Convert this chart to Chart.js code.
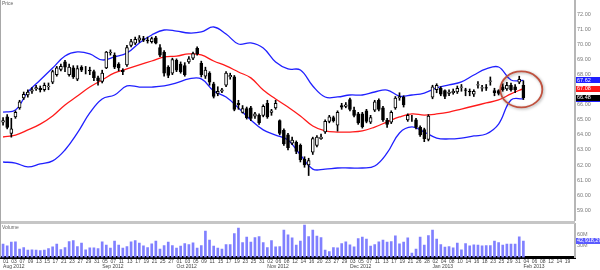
<!DOCTYPE html>
<html>
<head>
<meta charset="utf-8">
<script src="https://cdn.jsdelivr.net/npm/chart.js@4.4.1/dist/chart.umd.min.js"></script>
<style>
  html, body { margin: 0; padding: 0; background: #fff; }
  #wrap { position: relative; width: 600px; height: 270px; overflow: hidden; }
  canvas { position: absolute; left: 0; display: block; }
  #price-chart { top: 0; }
  #volume-chart { top: 221px; }
</style>
</head>
<body>
<div id="wrap">
  <canvas id="price-chart" width="600" height="221"></canvas>
  <canvas id="volume-chart" width="600" height="49"></canvas>
</div>
<script>
// Trading calendar (weekdays minus market closures)
const firstDay = '2012-08-01';
const lastDay = '2013-02-21';
const lastLabelledDay = '2013-02-19';
const closedDays = ['2012-09-03', '2012-10-29', '2012-10-30', '2012-11-22', '2012-12-25', '2013-01-01', '2013-01-21', '2013-02-18'];
const monthNames = ['Jan', 'Feb', 'Mar', 'Apr', 'May', 'Jun', 'Jul', 'Aug', 'Sep', 'Oct', 'Nov', 'Dec'];

// Daily prices, Aug 1 2012 - Feb 4 2013
const openPrices = [
    64.85, 65.2, 64.1, 65.2, 65.8, 66.45, 66.65, 66.9, 67.05, 67.1,
    67.0, 67.2, 67.5, 68.0, 68.35, 68.85, 68.0, 68.45, 67.7, 68.5,
    68.35, 68.3, 68.2, 67.8, 67.55, 68.45, 69.45, 69.3, 68.7, 68.3,
    68.65, 69.95, 70.1, 70.3, 70.4, 70.3, 70.2, 70.45, 69.8, 69.5,
    68.5, 68.1, 68.95, 68.7, 68.6, 68.85, 69.1, 69.75, 68.75, 67.9,
    68.1, 67.4, 66.75, 66.9, 67.3, 67.85, 67.85, 66.1, 65.5, 65.75,
    65.8, 65.25, 65.3, 65.3, 66.1, 65.5, 65.8, 64.95, 64.3, 64.0,
    63.45, 63.5, 63.3, 62.4, 62.0, 62.85, 63.3, 63.75, 64.2, 64.9,
    65.15, 64.65, 65.95, 65.9, 66.35, 65.65, 65.4, 65.4, 65.6, 64.85,
    65.65, 66.3, 65.8, 64.99, 64.85, 65.8, 66.45, 66.5, 65.0, 65.1,
    65.0, 64.5, 64.35, 63.7, 66.5, 67.0, 67.1, 66.95, 66.75, 66.8,
    66.85, 67.15, 67.0, 66.9, 66.7, 67.3, 67.1, 67.15, 67.55, 66.95,
    66.95, 67.2, 67.05, 67.3, 67.2, 67.5, 67.3
];
const highPrices = [
    65.15, 65.35, 65.1, 65.6, 66.3, 66.85, 67.0, 67.15, 67.3, 67.25,
    67.45, 67.45, 68.3, 68.55, 68.7, 68.95, 68.7, 68.6, 68.6, 68.6,
    68.55, 68.5, 68.3, 67.9, 68.3, 69.55, 69.65, 69.45, 68.8, 68.4,
    69.95, 70.35, 70.5, 70.6, 70.55, 70.5, 70.5, 70.55, 70.0, 69.6,
    68.6, 69.1, 69.05, 68.85, 68.8, 69.2, 69.5, 69.85, 68.9, 68.5,
    68.2, 67.5, 67.2, 67.1, 68.2, 68.1, 67.95, 66.3, 65.95, 65.85,
    65.9, 65.5, 65.4, 66.0, 66.3, 65.7, 66.3, 65.0, 64.4, 64.1,
    63.85, 63.6, 63.4, 62.55, 62.45, 63.85, 63.95, 64.05, 65.0, 65.3,
    65.25, 65.6, 66.1, 66.15, 66.45, 65.85, 65.5, 65.5, 65.7, 65.3,
    66.3, 66.4, 65.9, 65.1, 65.6, 66.55, 66.8, 66.6, 65.4, 65.3,
    65.1, 64.6, 64.45, 65.35, 67.3, 67.4, 67.2, 67.0, 67.0, 67.05,
    67.25, 67.35, 67.1, 67.05, 67.0, 67.55, 67.3, 67.35, 67.85, 67.1,
    67.0, 67.4, 67.5, 67.45, 67.35, 67.9, 67.6
];
const lowPrices = [
    64.65, 64.4, 63.85, 65.1, 65.7, 66.35, 66.5, 66.75, 66.95, 66.85,
    66.9, 67.0, 67.4, 67.9, 68.25, 68.2, 67.9, 67.75, 67.6, 68.2,
    68.05, 68.0, 67.6, 67.3, 67.45, 68.4, 69.3, 68.4, 68.25, 68.0,
    68.55, 69.85, 70.0, 70.15, 70.2, 70.1, 70.1, 70.05, 69.2, 67.9,
    67.8, 68.0, 68.2, 68.1, 67.9, 68.75, 69.0, 69.3, 67.85, 67.75,
    67.3, 66.45, 66.6, 66.8, 67.2, 67.7, 65.6, 65.7, 65.45, 65.05,
    64.95, 65.1, 64.7, 65.2, 65.1, 65.3, 65.7, 64.0, 63.3, 63.0,
    63.35, 62.75, 62.2, 61.85, 61.3, 62.7, 63.2, 63.7, 64.1, 64.8,
    64.85, 64.25, 65.7, 65.8, 65.6, 65.2, 64.7, 64.45, 64.8, 64.75,
    65.55, 65.6, 64.9, 64.5, 64.75, 65.7, 66.3, 65.85, 64.9, 64.9,
    64.4, 63.9, 63.55, 63.6, 66.4, 66.8, 66.6, 66.4, 66.6, 66.7,
    66.75, 66.9, 66.6, 66.6, 66.55, 67.1, 66.9, 66.95, 67.3, 66.6,
    66.65, 66.9, 66.95, 66.9, 66.8, 67.4, 66.35
];
const closePrices = [
    64.95, 64.5, 64.4, 65.5, 66.2, 66.7, 66.85, 67.0, 67.15, 67.0,
    67.3, 67.25, 68.2, 68.45, 68.55, 68.5, 68.5, 67.85, 68.4, 68.3,
    68.35, 68.25, 67.8, 67.6, 68.1, 69.5, 69.5, 68.5, 68.45, 68.2,
    69.8, 70.2, 70.35, 70.45, 70.3, 70.25, 70.4, 70.1, 69.3, 68.1,
    67.95, 69.0, 68.3, 68.2, 68.0, 69.05, 69.4, 69.4, 68.0, 68.3,
    67.5, 66.55, 66.9, 67.0, 68.1, 67.95, 65.7, 66.0, 65.75, 65.15,
    65.1, 65.4, 64.8, 65.9, 65.2, 65.6, 66.1, 64.1, 63.4, 63.15,
    63.65, 62.9, 62.35, 62.0, 62.3, 63.75, 63.85, 63.85, 64.9, 65.2,
    64.95, 65.5, 65.85, 66.0, 65.7, 65.3, 64.8, 64.55, 64.9, 65.15,
    66.2, 65.7, 65.0, 64.7, 65.5, 66.45, 66.55, 66.0, 65.3, 65.1,
    64.5, 64.0, 63.75, 65.25, 67.2, 67.3, 66.7, 66.55, 66.85, 66.9,
    67.1, 67.2, 66.95, 66.85, 66.9, 67.35, 67.15, 67.1, 67.6, 66.8,
    66.75, 67.0, 67.3, 67.0, 67.0, 67.7, 66.48
];

// Daily volume, millions of shares
const volumes = [
    34.7, 30.3, 39.9, 40.7, 21.7, 26.0, 19.1, 19.9, 19.1, 18.2,
    19.1, 23.4, 27.7, 34.7, 20.8, 26.0, 41.6, 44.2, 28.6, 37.3,
    19.9, 25.1, 25.1, 23.4, 40.7, 32.1, 24.3, 42.5, 32.1, 24.3,
    28.6, 40.7, 44.2, 37.3, 30.3, 26.0, 35.5, 42.5, 21.7, 31.2,
    39.9, 31.2, 24.3, 29.5, 36.4, 33.8, 38.1, 24.3, 31.2, 68.5,
    45.1, 29.5, 24.3, 21.7, 33.8, 33.8, 62.4, 76.3, 39.0, 52.9,
    39.9, 52.0, 54.6, 39.0, 26.0, 44.2, 27.7, 28.6, 71.1, 59.0,
    51.2, 32.1, 42.5, 84.1, 54.6, 71.1, 55.5, 52.0, 19.1, 15.6,
    26.0, 25.1, 36.4, 40.7, 32.9, 27.7, 49.4, 52.9, 47.7, 29.5,
    33.8, 40.7, 45.1, 39.9, 41.6, 56.4, 35.5, 39.9, 51.2, 11.3,
    21.7, 52.9, 32.1, 57.2, 71.1, 47.7, 33.8, 26.9, 28.6, 25.1,
    37.3, 19.9, 36.4, 30.3, 32.9, 32.1, 30.3, 31.2, 31.2, 42.5,
    39.0, 32.1, 34.7, 34.7, 34.7, 53.8, 42.91829
];

// Bollinger bands, read every 3rd session
const BAND_STEP = 3;
const upperBand = [
    65.52, 65.65, 66.85, 67.65, 68.44, 69.24, 69.51, 69.38, 68.98, 69.18,
    69.44, 70.11, 70.64, 70.97, 70.90, 70.77, 70.84, 71.17, 70.70, 70.04,
    70.11, 69.77, 68.84, 68.38, 68.31, 67.25, 66.52, 66.52, 66.65, 66.65,
    66.85, 66.98, 66.58, 66.65, 66.78, 67.12, 67.32, 67.52, 67.98, 68.38,
    68.51, 67.65, 67.62
];
const middleBand = [
    63.86, 63.99, 64.33, 64.72, 65.26, 65.99, 66.58, 67.18, 67.65, 68.12,
    68.38, 68.65, 68.91, 69.18, 69.24, 69.38, 69.31, 68.91, 68.58, 68.18,
    67.79, 66.98, 66.39, 65.85, 65.26, 64.59, 64.26, 64.19, 64.19, 64.26,
    64.52, 64.86, 65.19, 65.39, 65.32, 65.39, 65.52, 65.72, 65.92, 66.12,
    66.32, 66.72, 67.08
];
const lowerBand = [
    62.20, 62.13, 61.87, 62.07, 62.27, 63.00, 64.13, 65.46, 66.39, 66.65,
    67.25, 67.18, 67.18, 67.25, 67.45, 67.72, 67.72, 66.92, 66.52, 65.79,
    64.99, 64.33, 63.99, 63.66, 62.67, 61.73, 61.73, 61.80, 61.80, 61.80,
    61.93, 62.80, 64.13, 64.53, 64.19, 63.79, 63.73, 63.79, 63.93, 64.06,
    64.72, 66.32, 66.40
];

document.addEventListener('DOMContentLoaded', () => {
    const FONT = '"Liberation Sans", Arial, sans-serif';
    Chart.defaults.font.family = FONT;

    // Build the list of trading sessions
    function buildTradingDays(start, end, closed) {
        const days = [];
        const d = new Date(start + 'T00:00:00Z');
        const stop = new Date(end + 'T00:00:00Z');
        while (d <= stop) {
            const iso = d.toISOString().slice(0, 10);
            const wd = d.getUTCDay();
            if (wd !== 0 && wd !== 6 && !closed.includes(iso)) days.push(iso);
            d.setUTCDate(d.getUTCDate() + 1);
        }
        return days;
    }
    const tradingDays = buildTradingDays(firstDay, lastDay, closedDays);

    // Every other session gets a day number, first one of a month also gets the month
    const seenMonths = {};
    const tickLabels = tradingDays.map((iso, i) => {
        if (i % 2 !== 0 || iso > lastLabelledDay) return '';
        const day = iso.slice(8, 10);
        const key = iso.slice(0, 7);
        if (!seenMonths[key]) {
            seenMonths[key] = true;
            return [day, monthNames[+iso.slice(5, 7) - 1] + ' ' + iso.slice(0, 4)];
        }
        return day;
    });

    const wicks = lowPrices.map((l, i) => [l, highPrices[i]]);
    const bodies = openPrices.map((o, i) => [o, closePrices[i]]);
    const bodyFill = openPrices.map((o, i) => closePrices[i] >= o ? '#ffffff' : '#000000');
    const bandPoints = (band) => band.map((v, k) => ({ x: tradingDays[k * BAND_STEP], y: v }));

    // Right-hand scale is always 25px wide, no extra padding
    const fixRightAxis = (scale) => {
        scale.width = 25;
        scale.paddingTop = 0;
        scale.paddingBottom = 0;
    };

    // Coloured tag showing the last value of a series on the right axis
    function drawTag(chart, scaleId, value, bg, text) {
        const ctx = chart.ctx;
        const y = chart.scales[scaleId].getPixelForValue(value);
        const x = chart.chartArea.right + 1;
        ctx.save();
        ctx.fillStyle = bg;
        ctx.fillRect(x, Math.round(y - 3), chart.width - x, 6);
        ctx.fillStyle = '#ffffff';
        ctx.font = '5.5px ' + FONT;
        ctx.textBaseline = 'middle';
        ctx.textAlign = 'left';
        ctx.fillText(text, x + 1, y);
        ctx.restore();
    }

    const priceDecor = {
        id: 'priceDecor',
        afterDraw(chart) {
            const { ctx, scales } = chart;
            ctx.save();
            ctx.fillStyle = '#a8a8a8';
            ctx.fillRect(0, 0, 1, chart.height);
            ctx.fillStyle = '#666666';
            ctx.font = '5px ' + FONT;
            ctx.textBaseline = 'top';
            ctx.fillText('Price', 2, 1);

            // circle round the last sessions
            const n = closePrices.length;
            const cx = (scales.x.getPixelForValue(n - 2) + scales.x.getPixelForValue(n - 1)) / 2;
            const cy = scales.y.getPixelForValue(67.02);
            ctx.shadowColor = 'rgba(0,0,0,0.35)';
            ctx.shadowBlur = 3;
            ctx.shadowOffsetX = 1;
            ctx.shadowOffsetY = 1;
            ctx.strokeStyle = '#c0523f';
            ctx.lineWidth = 1.8;
            ctx.beginPath();
            ctx.ellipse(cx, cy, 21, 18, 0, 0, Math.PI * 2);
            ctx.stroke();
            ctx.restore();

            drawTag(chart, 'y', lowerBand[lowerBand.length - 1], '#1f1fff', lowerBand[lowerBand.length - 1].toFixed(2));
            drawTag(chart, 'y', upperBand[upperBand.length - 1], '#1f1fff', upperBand[upperBand.length - 1].toFixed(2));
            drawTag(chart, 'y', middleBand[middleBand.length - 1], '#ff1a1a', middleBand[middleBand.length - 1].toFixed(2));
            drawTag(chart, 'y', closePrices[n - 1], '#000000', closePrices[n - 1].toFixed(2));
        }
    };

    const volumeDecor = {
        id: 'volumeDecor',
        afterDraw(chart) {
            const { ctx, chartArea } = chart;
            ctx.save();
            ctx.fillStyle = '#c6c6c6';
            ctx.fillRect(0, 0, chartArea.right, 3);
            ctx.fillStyle = '#a8a8a8';
            ctx.fillRect(0, 0, 1, chartArea.bottom);
            ctx.fillStyle = '#666666';
            ctx.font = '5px ' + FONT;
            ctx.textBaseline = 'top';
            ctx.fillText('Volume', 2, chartArea.top + 1);
            ctx.restore();
            const last = volumes[volumes.length - 1];
            drawTag(chart, 'y', last, '#5a5aff', Math.round(last * 1e6).toLocaleString('en-US'));
        }
    };

    const lineStyle = { type: 'line', borderWidth: 1.3, pointRadius: 0, tension: 0.4, fill: false, order: 3 };

    // Price panel: candles + Bollinger bands
    new Chart(document.getElementById('price-chart'), {
        type: 'bar',
        data: {
            labels: tradingDays,
            datasets: [
                { ...lineStyle, label: 'Upper', data: bandPoints(upperBand), borderColor: '#2020ff' },
                { ...lineStyle, label: 'Middle', data: bandPoints(middleBand), borderColor: '#ff1a1a' },
                { ...lineStyle, label: 'Lower', data: bandPoints(lowerBand), borderColor: '#2020ff' },
                {
                    label: 'Range', data: wicks, backgroundColor: '#000000',
                    barThickness: 1, grouped: false, order: 2
                },
                {
                    label: 'Body', data: bodies, backgroundColor: bodyFill, borderColor: '#000000',
                    borderWidth: 1, borderSkipped: false, barThickness: 3, grouped: false, order: 1
                }
            ]
        },
        options: {
            responsive: false,
            animation: false,
            devicePixelRatio: 1,
            layout: { padding: { left: 1, right: 0, top: 0, bottom: 0 } },
            plugins: { legend: { display: false }, tooltip: { enabled: false } },
            scales: {
                x: { type: 'category', display: false, offset: true },
                y: {
                    position: 'right',
                    min: 58.279,
                    max: 72.963,
                    grid: { display: false, drawTicks: false },
                    border: { display: true, color: '#b6b6b6', width: 2 },
                    ticks: {
                        stepSize: 1, includeBounds: false, padding: 2,
                        color: '#7a7a7a', font: { size: 5.5 },
                        callback: (v) => v.toFixed(2)
                    },
                    afterFit: fixRightAxis
                }
            }
        },
        plugins: [priceDecor]
    });

    // Volume panel with the shared date axis
    new Chart(document.getElementById('volume-chart'), {
        type: 'bar',
        data: {
            labels: tradingDays,
            datasets: [{
                label: 'Volume', data: volumes, backgroundColor: '#8080ff', barThickness: 2
            }]
        },
        options: {
            responsive: false,
            animation: false,
            devicePixelRatio: 1,
            layout: { padding: { left: 1, right: 0, top: 3, bottom: 0 } },
            plugins: { legend: { display: false }, tooltip: { enabled: false } },
            scales: {
                x: {
                    type: 'category',
                    offset: true,
                    grid: { display: false, drawTicks: false },
                    border: { display: true, color: '#000000', width: 3 },
                    ticks: {
                        autoSkip: false, maxRotation: 0, minRotation: 0, align: 'start', padding: 1,
                        color: '#444444', font: { size: 5, lineHeight: 1.1 },
                        callback: (value, index) => tickLabels[index]
                    },
                    afterFit: (scale) => {
                        scale.height = 12.5;
                        scale.paddingLeft = 0;
                        scale.paddingRight = 0;
                    }
                },
                y: {
                    position: 'right',
                    min: 0,
                    max: 87,
                    grid: { display: false, drawTicks: false },
                    border: { display: true, color: '#b6b6b6', width: 2 },
                    ticks: {
                        stepSize: 30, includeBounds: false, padding: 2,
                        color: '#7a7a7a', font: { size: 5.5 },
                        callback: (v) => v === 0 ? '' : v + 'M'
                    },
                    afterFit: fixRightAxis
                }
            }
        },
        plugins: [volumeDecor]
    });
});
</script>
</body>
</html>
